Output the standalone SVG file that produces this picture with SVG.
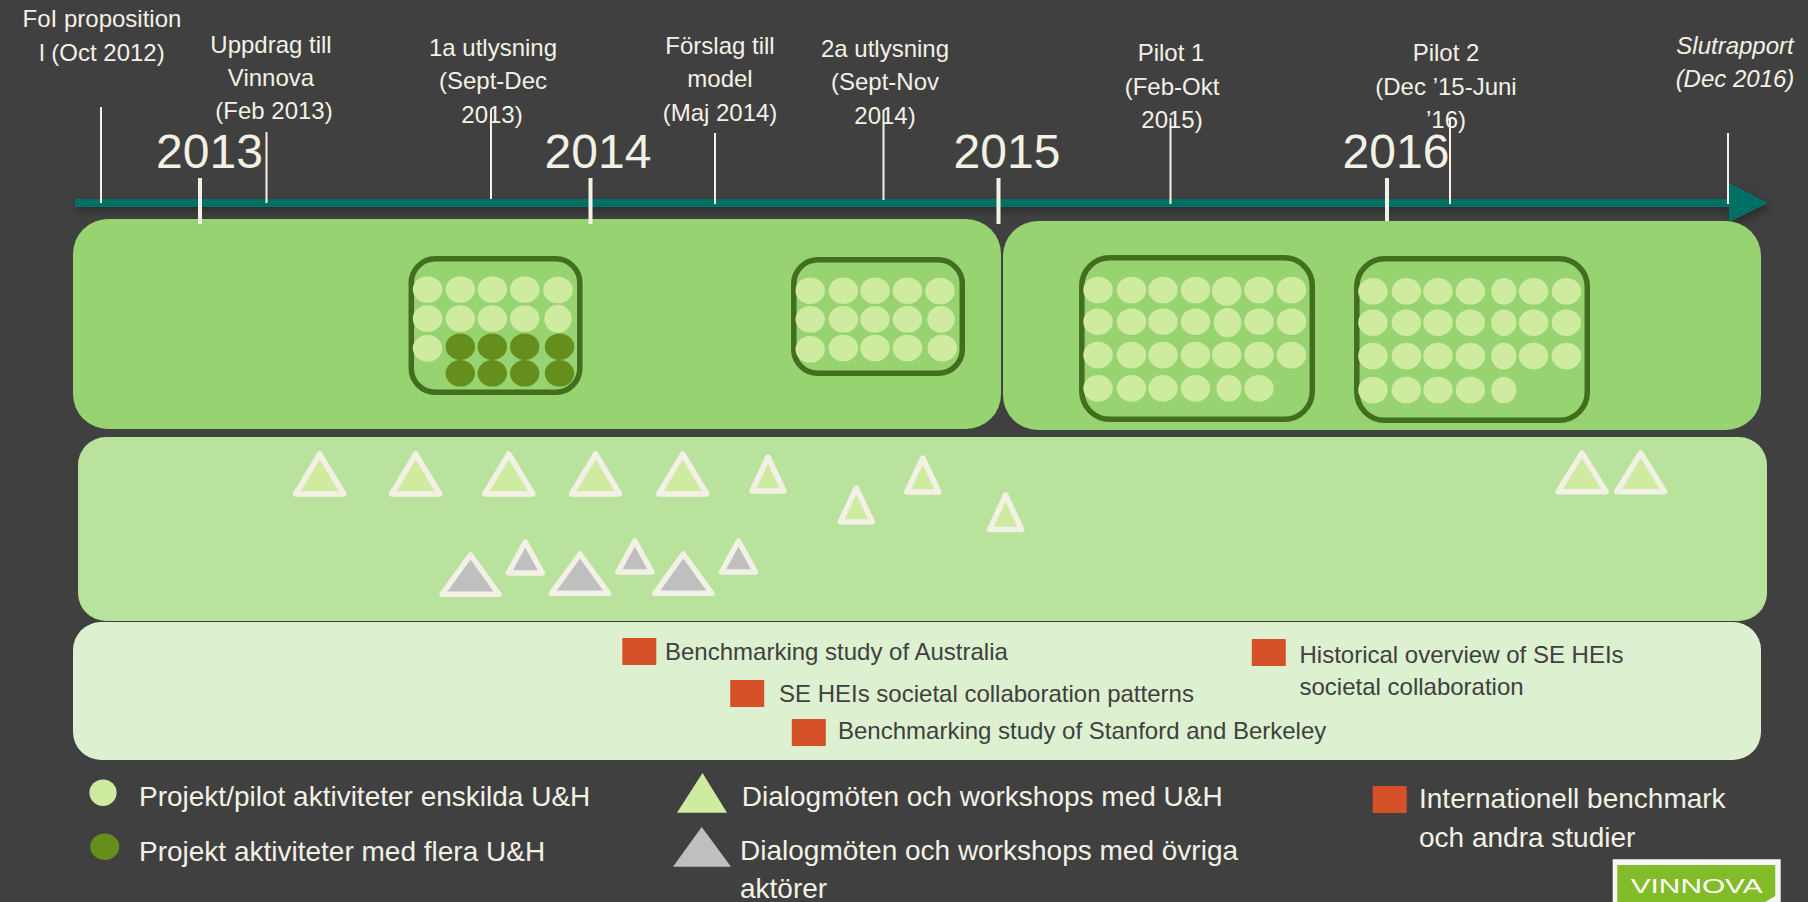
<svg xmlns="http://www.w3.org/2000/svg" xmlns:xlink="http://www.w3.org/1999/xlink" width="1808" height="902" viewBox="0 0 1808 902">
<style>
text{font-family:"Liberation Sans",Arial,sans-serif;fill:#F3F1E6}
.m{text-anchor:middle;font-size:24px}
.y{text-anchor:middle;font-size:48px}
.i{font-style:italic}
.d{font-size:24px;fill:#404040}
.l{font-size:28px}
.tick{stroke:#F3F1E6;stroke-width:2;fill:none}
.tk{stroke:#F3F1E6;stroke-width:4;fill:none}
.p1{fill:#97D471}.p2{fill:#B9E29D}.p3{fill:#DDF0CF}
.box{fill:none;stroke:#426E1E;stroke-width:5.5}
.c{fill:#CEEBA0}.g{fill:#658E1C}
.tl{fill:#CEEBA0;stroke:#F3F1E6;stroke-width:5.5;stroke-linejoin:round}
.tg{fill:#BFBFBF;stroke:#F3F1E6;stroke-width:5.5;stroke-linejoin:round}
.sq{fill:#D55127}
</style>
<defs>
<filter id="sh" x="-2%" y="-60%" width="104%" height="260%"><feDropShadow dx="3" dy="4" stdDeviation="4" flood-color="#000" flood-opacity="0.35"/></filter>
<ellipse id="o" class="c" rx="14.7" ry="13.3"/>
<ellipse id="n" class="c" rx="12.6" ry="13.3"/>
<ellipse id="k" class="g" rx="14.7" ry="13.3"/>
</defs>
<rect width="1808" height="902" fill="#404040"/>

<g id="timeline">
<path d="M75 199H1729V183L1768 203 1729 222V207H75Z" fill="#007065" filter="url(#sh)"/>
</g>

<g id="panels">
<rect id="panel-a" class="p1" x="73" y="219" width="928" height="210" rx="35"/>
<rect id="panel-b" class="p1" x="1003" y="221" width="758" height="209" rx="35"/>
<rect id="panel-c" class="p2" x="78" y="437" width="1689" height="184" rx="28"/>
<rect id="panel-d" class="p3" x="73" y="622" width="1688" height="138" rx="28"/>
</g>

<g id="connectors">
<path class="tick" d="M101 107V203M266.500 132V203M491 110V199M715 133V204M883.500 110V200M1170.500 118V204M1450 118V204M1728 133V204"/>
<path class="tk" d="M200 178V224M590.500 178V224M998.500 178V224M1387 178V221"/>
</g>

<g id="labels">
<g id="l-fol"><text class="m" x="102" y="27">FoI proposition</text><text class="m" x="102" y="61">l (Oct 2012)</text></g>
<g id="l-uppdrag"><text class="m" x="271" y="53">Uppdrag till</text><text class="m" x="271" y="86">Vinnova</text><text class="m" x="274" y="119">(Feb 2013)</text></g>
<g id="l-1a"><text class="m" x="493" y="56">1a utlysning</text><text class="m" x="493" y="89">(Sept-Dec</text><text class="m" x="492" y="123">2013)</text></g>
<g id="l-forslag"><text class="m" x="720" y="54">Förslag till</text><text class="m" x="720" y="87">model</text><text class="m" x="720" y="121">(Maj 2014)</text></g>
<g id="l-2a"><text class="m" x="885" y="57">2a utlysning</text><text class="m" x="885" y="90">(Sept-Nov</text><text class="m" x="885" y="124">2014)</text></g>
<g id="l-pilot1"><text class="m" x="1171" y="61">Pilot 1</text><text class="m" x="1172" y="95">(Feb-Okt</text><text class="m" x="1172" y="128">2015)</text></g>
<g id="l-pilot2"><text class="m" x="1446" y="61">Pilot 2</text><text class="m" x="1446" y="95">(Dec ’15-Juni</text><text class="m" x="1446" y="128">’16)</text></g>
<g id="l-slut"><text class="m i" x="1735" y="54">Slutrapport</text><text class="m i" x="1735" y="87">(Dec 2016)</text></g>
<g id="y2013"><text class="y" x="209.500" y="168">2013</text></g>
<g id="y2014"><text class="y" x="598" y="168">2014</text></g>
<g id="y2015"><text class="y" x="1007" y="168">2015</text></g>
<g id="y2016"><text class="y" x="1396" y="168">2016</text></g>
</g>

<g id="box-1a">
<rect class="box" x="411.300" y="258.800" width="168.500" height="133.500" rx="24"/>
<use href="#o" x="427.500" y="289.500"/><use href="#o" x="460.300" y="289.500"/><use href="#o" x="492.300" y="289.500"/><use href="#o" x="524.700" y="289.500"/><use href="#o" x="558" y="290"/>
<use href="#o" x="427.500" y="318.500"/><use href="#o" x="460.300" y="318.500"/><use href="#o" x="492.300" y="318.500"/><use href="#o" x="524.700" y="318.500"/><ellipse class="c" cx="558" cy="318.800" rx="13.700" ry="14"/>
<use href="#o" x="427.500" y="348.300"/><use href="#k" x="460.300" y="346.700"/><use href="#k" x="492.300" y="346.700"/><use href="#k" x="524.700" y="346.700"/><use href="#k" x="559.500" y="346.700"/>
<use href="#k" x="460.300" y="373.300"/><use href="#k" x="492.300" y="373.300"/><use href="#k" x="524.700" y="373.300"/><use href="#k" x="559.500" y="373.300"/>
</g>

<g id="box-2a">
<rect class="box" x="793.800" y="259.800" width="168.500" height="113.500" rx="24"/>
<use href="#o" x="810.200" y="290.700"/><use href="#o" x="843.400" y="290.700"/><use href="#o" x="875" y="290.700"/><use href="#o" x="907.500" y="290.700"/><use href="#o" x="940" y="291"/>
<use href="#o" x="810.200" y="319.300"/><use href="#o" x="843.400" y="319.300"/><use href="#o" x="875" y="319.300"/><use href="#o" x="907.500" y="319.300"/><ellipse class="c" cx="941" cy="319.300" rx="13.700" ry="13.300"/>
<use href="#o" x="810.200" y="349.300"/><use href="#o" x="843.400" y="348"/><use href="#o" x="875" y="348"/><use href="#o" x="907.500" y="348"/><use href="#o" x="942.300" y="348"/>
</g>

<g id="box-pilot1">
<rect class="box" x="1081.800" y="257.800" width="230.500" height="161.500" rx="28"/>
<use href="#o" x="1098" y="290"/><use href="#o" x="1131.500" y="290"/><use href="#o" x="1163" y="290"/><use href="#o" x="1195.500" y="290"/><ellipse class="c" cx="1226.700" cy="291.300" rx="14.700" ry="14.500"/><use href="#o" x="1259" y="290"/><use href="#o" x="1291.500" y="290"/>
<use href="#o" x="1098" y="321.700"/><use href="#o" x="1131.500" y="321.700"/><use href="#o" x="1163" y="321.700"/><use href="#o" x="1195.500" y="321.700"/><ellipse class="c" cx="1227.500" cy="322.700" rx="13.800" ry="14.700"/><use href="#o" x="1259" y="321.700"/><use href="#o" x="1291.500" y="321.700"/>
<use href="#o" x="1098" y="355"/><use href="#o" x="1131.500" y="355"/><use href="#o" x="1163" y="355"/><use href="#o" x="1195.500" y="355"/><use href="#o" x="1226.700" y="355"/><use href="#o" x="1259" y="355"/><use href="#o" x="1291.500" y="355"/>
<use href="#o" x="1098" y="388.300"/><use href="#o" x="1131.500" y="388.300"/><use href="#o" x="1163" y="388.300"/><use href="#o" x="1195.500" y="388.300"/><use href="#n" x="1229" y="388.300"/><use href="#o" x="1259" y="388.300"/>
</g>

<g id="box-pilot2">
<rect class="box" x="1356.800" y="258.800" width="230.500" height="161.500" rx="28"/>
<use href="#o" x="1372.900" y="291.300"/><use href="#o" x="1406.400" y="291.300"/><use href="#o" x="1438" y="291.300"/><use href="#o" x="1470.400" y="291.300"/><use href="#n" x="1503.800" y="291.300"/><use href="#o" x="1533.600" y="291.300"/><use href="#o" x="1566.400" y="291.300"/>
<use href="#o" x="1372.900" y="322.700"/><use href="#o" x="1406.400" y="322.700"/><use href="#o" x="1438" y="322.700"/><use href="#o" x="1470.400" y="322.700"/><use href="#n" x="1503.800" y="322.700"/><use href="#o" x="1533.600" y="322.700"/><use href="#o" x="1566.400" y="322.700"/>
<use href="#o" x="1372.900" y="356"/><use href="#o" x="1406.400" y="356"/><use href="#o" x="1438" y="356"/><use href="#o" x="1470.400" y="356"/><use href="#n" x="1503.800" y="356"/><use href="#o" x="1533.600" y="356"/><use href="#o" x="1566.400" y="356"/>
<use href="#o" x="1372.900" y="390"/><use href="#o" x="1406.400" y="390"/><use href="#o" x="1438" y="390"/><use href="#o" x="1470.400" y="390"/><use href="#n" x="1503.800" y="390"/>
</g>

<g id="dialog-uh">
<path class="tl" d="M319.700 454L343.700 494H295.700Z"/>
<path class="tl" d="M415.700 454L439.700 494H391.700Z"/>
<path class="tl" d="M508.800 454L532.800 494H484.800Z"/>
<path class="tl" d="M595.600 454L619.600 494H571.600Z"/>
<path class="tl" d="M682.800 454L706.800 494H658.800Z"/>
<path class="tl" d="M768 457L784 491H752Z"/>
<path class="tl" d="M856.300 488L872.300 522H840.300Z"/>
<path class="tl" d="M922.800 458L938.800 492H906.800Z"/>
<path class="tl" d="M1005.600 495L1021.600 529.500H989.600Z"/>
<path class="tl" d="M1582 453L1606 491.700H1558Z"/>
<path class="tl" d="M1640.700 453L1664.700 491.700H1616.700Z"/>
</g>

<g id="dialog-ovriga">
<path class="tg" d="M470.500 555L499 594.300H442Z"/>
<path class="tg" d="M580 554L608.500 593.300H551.500Z"/>
<path class="tg" d="M683.300 554L711.800 593.300H654.800Z"/>
<path class="tg" d="M525.300 542L542.300 573H508.300Z"/>
<path class="tg" d="M634.800 541L651.800 572H617.800Z"/>
<path class="tg" d="M738.500 541L755.500 572H721.500Z"/>
</g>

<g id="studies">
<g id="s-australia"><rect class="sq" x="622.300" y="638" width="34" height="27"/><text class="d" x="665" y="660">Benchmarking study of Australia</text></g>
<g id="s-patterns"><rect class="sq" x="730.200" y="680" width="34" height="27"/><text class="d" x="779" y="702">SE HEIs societal collaboration patterns</text></g>
<g id="s-stanford"><rect class="sq" x="791.800" y="719" width="34" height="27"/><text class="d" x="838" y="739">Benchmarking study of Stanford and Berkeley</text></g>
<g id="s-historical"><rect class="sq" x="1251.800" y="639" width="34" height="27"/><text class="d" x="1299.500" y="663">Historical overview of SE HEIs</text><text class="d" x="1299.500" y="695">societal collaboration</text></g>
</g>

<g id="legend">
<g id="lg-single"><ellipse class="c" cx="103" cy="792.700" rx="13.600" ry="13.300"/><text class="l" x="139" y="806">Projekt/pilot aktiviteter enskilda U&amp;H</text></g>
<g id="lg-multi"><ellipse class="g" cx="104.700" cy="846.700" rx="14.500" ry="13.300"/><text class="l" x="139" y="861">Projekt aktiviteter med flera U&amp;H</text></g>
<g id="lg-uh"><path class="c" d="M702.500 773L727 812.700H677Z"/><text class="l" x="741.800" y="806">Dialogmöten och workshops med U&amp;H</text></g>
<g id="lg-ovriga"><path fill="#BFBFBF" d="M701.700 827L731 866.700H673Z"/><text class="l" x="740" y="860">Dialogmöten och workshops med övriga</text><text class="l" x="740" y="898">aktörer</text></g>
<g id="lg-bench"><rect class="sq" x="1372.700" y="786" width="34" height="27"/><text class="l" x="1419" y="808">Internationell benchmark</text><text class="l" x="1419" y="847">och andra studier</text></g>
</g>

<g id="logo">
<path fill="#F5F5F5" d="M1612.700 859.300H1780.700V902H1612.700Z"/>
<path fill="#82BC28" d="M1617.300 865H1775.300V896L1765 902H1617.300Z"/>
<text x="1630.700" y="892.700" font-size="20.500" textLength="132" lengthAdjust="spacingAndGlyphs" style="fill:#fff">VINNOVA</text>
</g>
</svg>
